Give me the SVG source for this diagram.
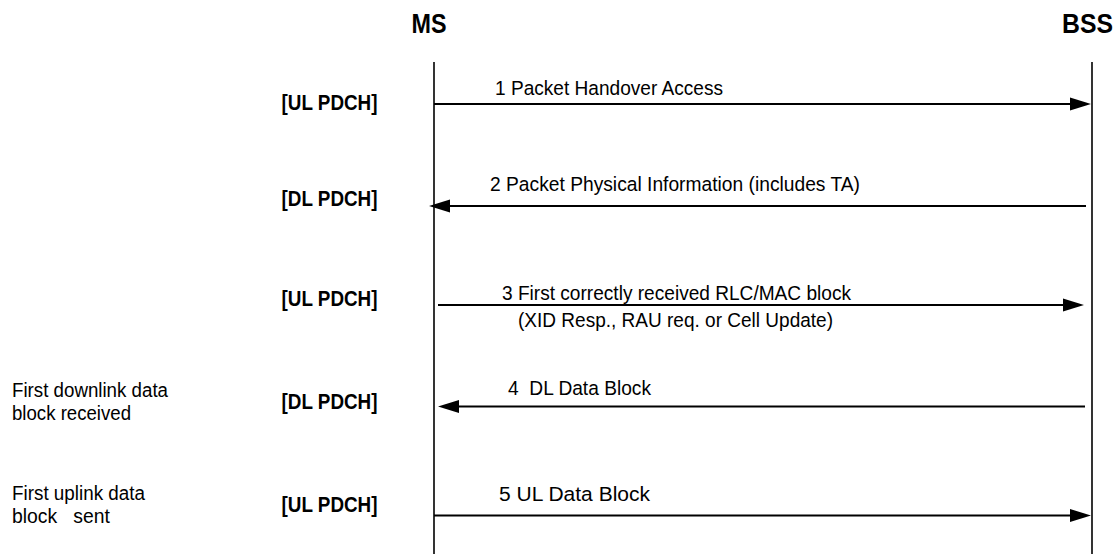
<svg xmlns="http://www.w3.org/2000/svg" width="1116" height="554" viewBox="0 0 1116 554">
<style>
.t{font-family:"Liberation Sans",Arial,sans-serif;font-size:20.5px;fill:#000}
.n{font-family:"Liberation Sans",Arial,sans-serif;font-size:19.5px;fill:#000}
.b{font-family:"Liberation Sans",Arial,sans-serif;font-size:22px;font-weight:bold;fill:#000}
.h{font-family:"Liberation Sans",Arial,sans-serif;font-size:27px;font-weight:bold;fill:#000}
.life{stroke:#000;stroke-width:1.6;fill:none}
.msg{stroke:#000;stroke-width:2;fill:none;marker-end:url(#ah)}
</style>
<defs>
<marker id="ah" markerUnits="userSpaceOnUse" markerWidth="24" markerHeight="14" viewBox="0 -7 24 14" refX="3" refY="0" orient="auto">
<path d="M0,-6.5 L21,0 L0,6.5 z" fill="#000"/>
</marker>
</defs>
<rect width="1116" height="554" fill="#fff"/>
<g id="MS">
<text class="h" x="411.5" y="32.5" textLength="35" lengthAdjust="spacingAndGlyphs">MS</text>
<line class="life" x1="434" y1="62" x2="434" y2="554"/>
</g>
<g id="BSS">
<text class="h" x="1062" y="32.5" textLength="51" lengthAdjust="spacingAndGlyphs">BSS</text>
<line class="life" x1="1092" y1="62" x2="1092" y2="554"/>
</g>
<g id="channels">
<text class="b" x="281.5" y="109.5" textLength="96" lengthAdjust="spacingAndGlyphs">[UL PDCH]</text>
<text class="b" x="281.5" y="206" textLength="96" lengthAdjust="spacingAndGlyphs">[DL PDCH]</text>
<text class="b" x="281.5" y="306" textLength="96" lengthAdjust="spacingAndGlyphs">[UL PDCH]</text>
<text class="b" x="281.5" y="409" textLength="96" lengthAdjust="spacingAndGlyphs">[DL PDCH]</text>
<text class="b" x="281.5" y="512" textLength="96" lengthAdjust="spacingAndGlyphs">[UL PDCH]</text>
</g>
<g id="notes">
<text class="n" x="12" y="397" textLength="156" lengthAdjust="spacingAndGlyphs">First downlink data</text>
<text class="n" x="12" y="420" textLength="119" lengthAdjust="spacingAndGlyphs">block received</text>
<text class="n" x="12" y="500" textLength="133" lengthAdjust="spacingAndGlyphs">First uplink data</text>
<text class="n" x="12" y="523" textLength="98" lengthAdjust="spacingAndGlyphs" xml:space="preserve" style="white-space:pre">block   sent</text>
</g>
<g id="connectors">
<line class="msg" x1="434" y1="104" x2="1073" y2="104"/>
<line class="msg" x1="1086" y1="206" x2="447" y2="206"/>
<line class="msg" x1="438" y1="305" x2="1066" y2="305"/>
<line class="msg" x1="1085" y1="406.5" x2="456" y2="406.5"/>
<line class="msg" x1="434" y1="515.5" x2="1073" y2="515.5"/>
</g>
<g id="labels">
<text class="t" x="495" y="95" textLength="228" lengthAdjust="spacingAndGlyphs">1 Packet Handover Access</text>
<text class="t" x="490" y="191" textLength="370" lengthAdjust="spacingAndGlyphs">2 Packet Physical Information (includes TA)</text>
<text class="t" x="502" y="300" textLength="349" lengthAdjust="spacingAndGlyphs">3 First correctly received RLC/MAC block</text>
<text class="t" x="518" y="327" textLength="315" lengthAdjust="spacingAndGlyphs">(XID Resp., RAU req. or Cell Update)</text>
<text class="t" x="508" y="395" textLength="143" lengthAdjust="spacingAndGlyphs" xml:space="preserve" style="white-space:pre">4  DL Data Block</text>
<text class="t" x="499" y="501" textLength="151" lengthAdjust="spacingAndGlyphs">5 UL Data Block</text>
</g>
</svg>
